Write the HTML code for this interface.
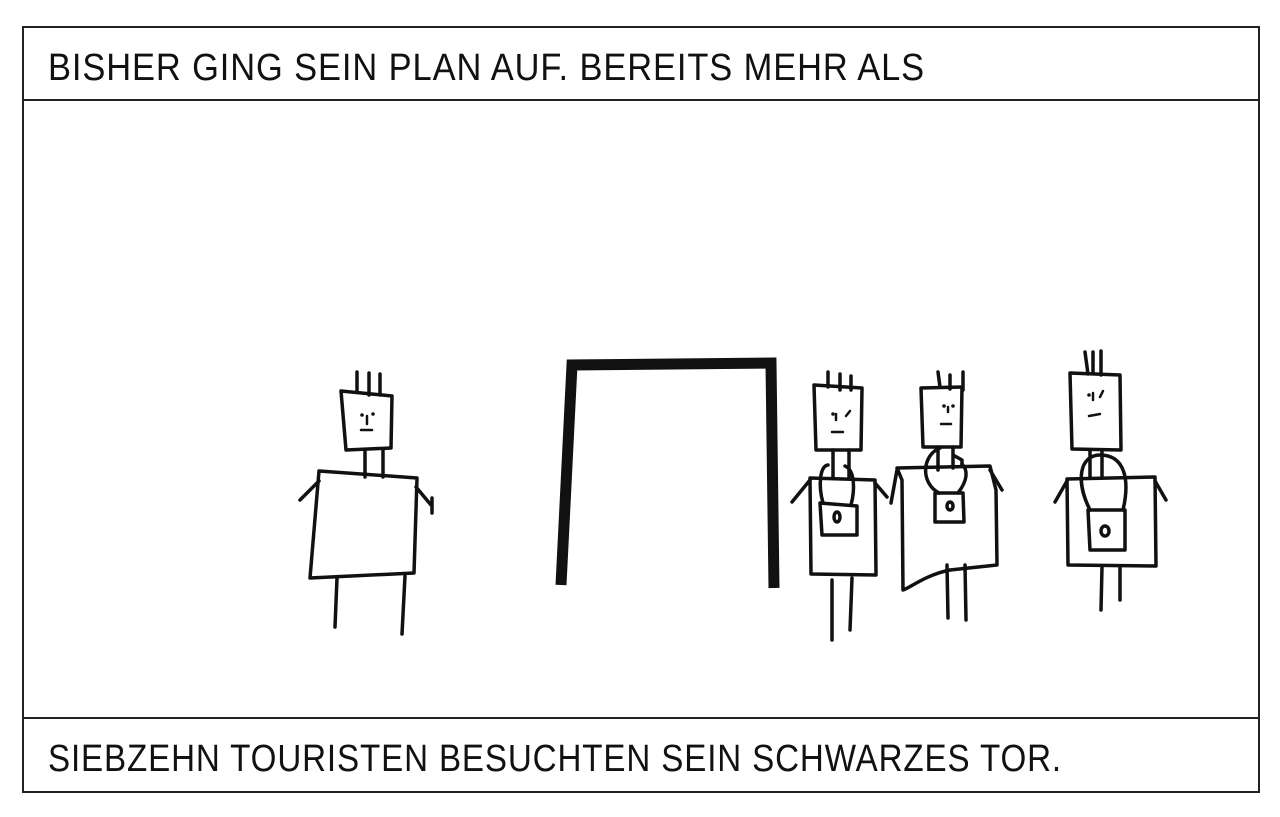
<!DOCTYPE html>
<html><head><meta charset="utf-8"><style>
html,body{margin:0;padding:0;background:#fff;}
svg{display:block}
text{font-family:"Liberation Sans",sans-serif;font-size:38px;fill:#111;letter-spacing:1px}
</style></head><body>
<svg width="1280" height="817" viewBox="0 0 1280 817">
<g fill="none" stroke="#222" stroke-width="2">
<rect x="23" y="27" width="1236" height="765"/>
<line x1="23" y1="100" x2="1259" y2="100"/>
<line x1="23" y1="718" x2="1259" y2="718"/>
</g>
<text x="48" y="80" textLength="877" lengthAdjust="spacingAndGlyphs">BISHER GING SEIN PLAN AUF. BEREITS MEHR ALS</text>
<text x="48" y="771" textLength="1014" lengthAdjust="spacingAndGlyphs">SIEBZEHN TOURISTEN BESUCHTEN SEIN SCHWARZES TOR.</text>
<g fill="none" stroke="#111" stroke-width="3.5" stroke-linecap="round" stroke-linejoin="round">
<path d="M357,372V392 M369,373V395 M380,374V395"/>
<path d="M341,391L392,396L391,448L346,450Z"/>
<path d="M365,450V477 M383,450V477"/>
<path d="M319,471L417,478L414,573L310,578Z"/>
<path d="M319,481L300,500 M416,487L431,505 M432,498V513"/>
<path d="M337,578L335,627 M405,576L402,634"/>
<path d="M561,585L572,365L771,363L774,588" stroke-width="11" stroke-linecap="butt" stroke-linejoin="miter"/>
<path d="M828,372V387 M840,374V390 M851,376V390"/>
<path d="M814,385L862,388L861,450L816,450Z"/>
<path d="M833,450V478 M849,450V478"/>
<path d="M810,478L875,480L876,575L811,574Z"/>
<path d="M810,480L792,502 M875,483L887,497"/>
<path d="M820,503L857,506L857,535L822,535Z"/>
<ellipse cx="837" cy="517" rx="3" ry="5"/>
<path d="M823,503C818,485 820,466 828,465 M851,505C855,490 855,470 845,466"/>
<path d="M832,580L832,640 M852,578L850,630"/>
<path d="M938,372L940,387 M950,375V389 M963,372V390"/>
<path d="M921,388L962,387L961,447L923,447Z"/>
<path d="M938,447V470 M953,447V468 M953,455L962,460V466"/>
<path d="M897,468L990,466L996,490L997,565L950,570C925,575 910,588 903,590L902,480Z"/>
<path d="M897,470L891,503 M990,470L1002,490"/>
<path d="M935,493L963,493L964,522L935,522Z"/>
<ellipse cx="950" cy="506" rx="3" ry="4"/>
<path d="M939,493C920,483 922,455 940,448 M958,493C968,480 968,470 962,464"/>
<path d="M947,565L948,618 M965,565L966,620"/>
<path d="M1085,352L1088,374 M1093,352V373 M1101,351V375"/>
<path d="M1070,373L1120,375L1121,450L1072,449Z"/>
<path d="M1090,450V478 M1102,450V478"/>
<path d="M1067,479L1155,477L1156,566L1068,565Z"/>
<path d="M1067,481L1055,502 M1155,481L1166,500"/>
<path d="M1088,510L1125,510L1125,550L1090,550Z"/>
<ellipse cx="1105" cy="531" rx="4" ry="5"/>
<path d="M1090,510C1075,480 1080,455 1100,455C1125,455 1130,480 1123,510"/>
<path d="M1102,567L1101,610 M1120,567L1120,600"/>
</g>
<g fill="#111">
<circle cx="362" cy="415" r="1.8"/><circle cx="373" cy="414" r="1.8"/>
<circle cx="833" cy="414" r="1.8"/><circle cx="944" cy="406" r="1.8"/><circle cx="953" cy="406" r="1.8"/>
<circle cx="1089" cy="395" r="1.8"/>
</g>
<g fill="none" stroke="#111" stroke-width="2.5" stroke-linecap="round">
<path d="M361,430H372 M367,416V424"/>
<path d="M832,432H843 M836,414V420 M846,416L850,411"/>
<path d="M941,424H951 M948,407V412"/>
<path d="M1089,416L1100,414 M1093,393V400 M1100,397L1103,391"/>
</g>
</svg>
</body></html>
